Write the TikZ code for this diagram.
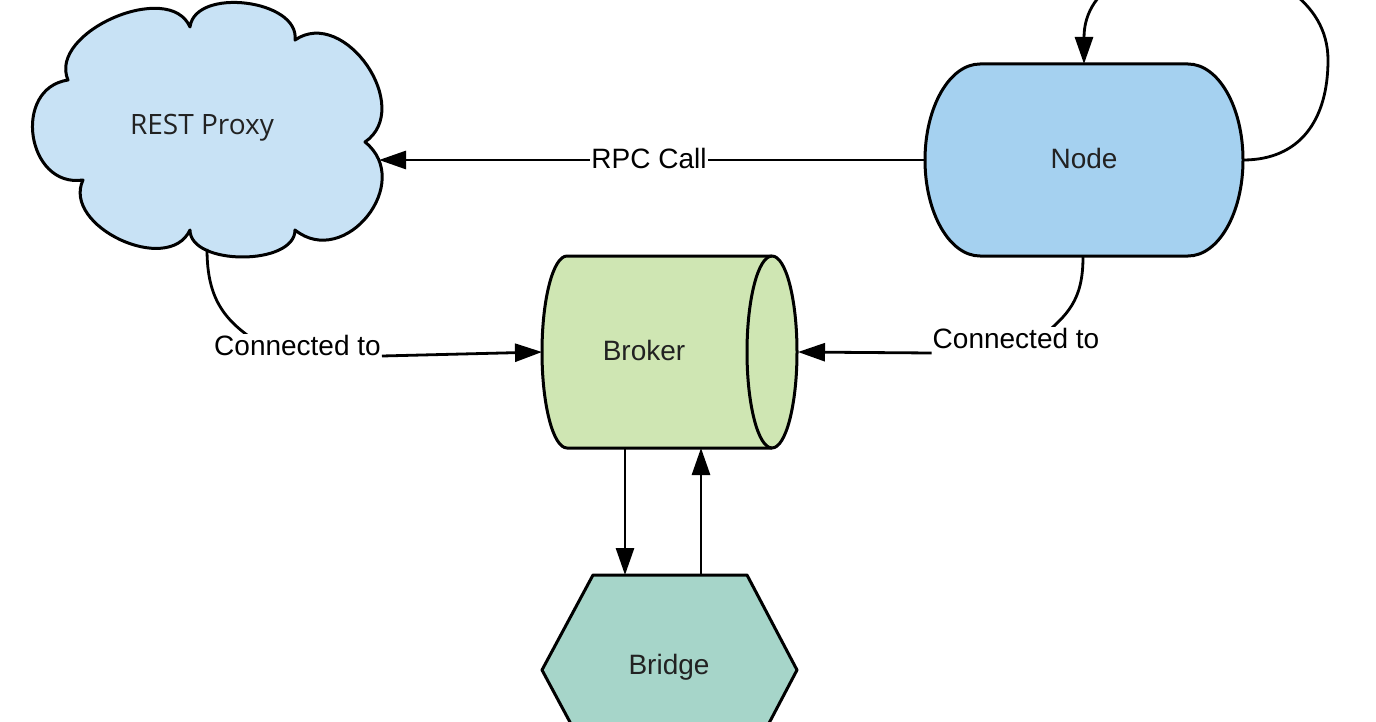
\documentclass[tikz,border=0pt]{standalone}
\usepackage{fontspec}
\setmainfont{Liberation Sans}
\newfontfamily\osans{Open Sans}
\usetikzlibrary{arrows.meta}
\definecolor{cloudfill}{HTML}{C8E2F5}
\definecolor{nodefill}{HTML}{A5D1F0}
\definecolor{brokfill}{HTML}{CFE6B3}
\definecolor{bridfill}{HTML}{A6D5C9}
\definecolor{txtcol}{HTML}{222222}
\tikzset{
  shapeline/.style={draw=black, line width=3pt, line join=round},
  conn/.style={draw=black, line width=2.8pt},
  arr/.style={conn, -{Triangle[length=27pt,width=18pt]}},
  shapetext/.style={text=txtcol, font=\fontsize{28}{34}\selectfont, inner sep=0pt},
  lbl/.style={fill=white, text=black, font=\fontsize{28}{34}\selectfont, inner sep=1pt},
}
\begin{document}
\begin{tikzpicture}[x=1pt, y=-1pt]
\useasboundingbox (0,0) rectangle (1376,722);
\clip (0,0) rectangle (1376,722);
\fill[white] (0,0) rectangle (1376,722);

% REST Proxy cloud
\path[shapeline, fill=cloudfill]
  (68,80) .. controls (47.4,32.3) and (169.4,-20.7) .. (190,27)
  .. controls (195,-13.4) and (300,-0.4) .. (295,40)
  .. controls (344.5,6) and (414.5,108) .. (365,142)
  .. controls (415,182) and (345,270) .. (295,230)
  .. controls (295,266) and (190,266) .. (190,230)
  .. controls (168.4,276.3) and (61.4,226.3) .. (83,180)
  .. controls (26.6,188.4) and (11.6,88.4) .. (68,80) -- cycle;
\node[shapetext, font=\osans\fontsize{28}{34}\selectfont] (rest) at (202,128) {REST Proxy};

% Node (terminator)
\path[shapeline, fill=nodefill]
  (980,64) -- (1188,64) arc[start angle=-90, end angle=90, x radius=55, y radius=96]
  -- (980,256) arc[start angle=90, end angle=270, x radius=55, y radius=96] -- cycle;
\node[shapetext] (node) at (1084,158) {Node};

% Broker cylinder
\path[shapeline, fill=brokfill]
  (567,256) -- (772,256) arc[start angle=-90, end angle=90, x radius=25, y radius=96]
  -- (567,448) arc[start angle=90, end angle=270, x radius=25, y radius=96] -- cycle;
\path[shapeline] (772,256) arc[start angle=-90, end angle=-270, x radius=25, y radius=96];
\node[shapetext] (broker) at (644,350) {Broker};

% Bridge hexagon
\path[shapeline, fill=bridfill]
  (593,575) -- (747,575) -- (797,670) -- (747,765) -- (593,765) -- (542,670) -- cycle;
\node[shapetext] (bridge) at (669,667) {Bridge};

% anchor coordinates
\coordinate (nodeW) at (925,160);
\coordinate (nodeE) at (1243,160);
\coordinate (nodeN) at (1084,64);
\coordinate (nodeS) at (1083,257);
\coordinate (restE) at (379,160);
\coordinate (restS) at (207,249);
\coordinate (brokW) at (542,352);
\coordinate (brokE) at (798,352);
\coordinate (brokS1) at (625,448);
\coordinate (brokS2) at (701,448);
\coordinate (bridN1) at (625,575);
\coordinate (bridN2) at (701,575);
\coordinate (loopR) at (1328,60);

% connectors
\draw[arr] (nodeW) -- (restE);
\node[lbl] (rpc) at (649,158) {RPC Call};

\draw[arr] (nodeE) .. controls (1300,160) and (1328,120) .. (loopR)
  .. controls (1328,-60) and (1084,-70) .. (nodeN);

\draw[conn] (restS) .. controls (207,300) and (225,322) .. (262,345);
\node[lbl, anchor=base] (lab1) at (297.5,355) {Connected to};
\draw[arr] ([yshift=-1pt]lab1.base east) -- (brokW);

\draw[conn] (nodeS) .. controls (1083,300) and (1068,315) .. (1040,338);
\node[lbl, anchor=base] (lab2) at (1016,348) {Connected to};
\draw[arr] ([yshift=-5pt]lab2.base west) -- (brokE);

\draw[arr] (brokS1) -- (bridN1);
\draw[arr] (bridN2) -- (brokS2);
\end{tikzpicture}
\end{document}
